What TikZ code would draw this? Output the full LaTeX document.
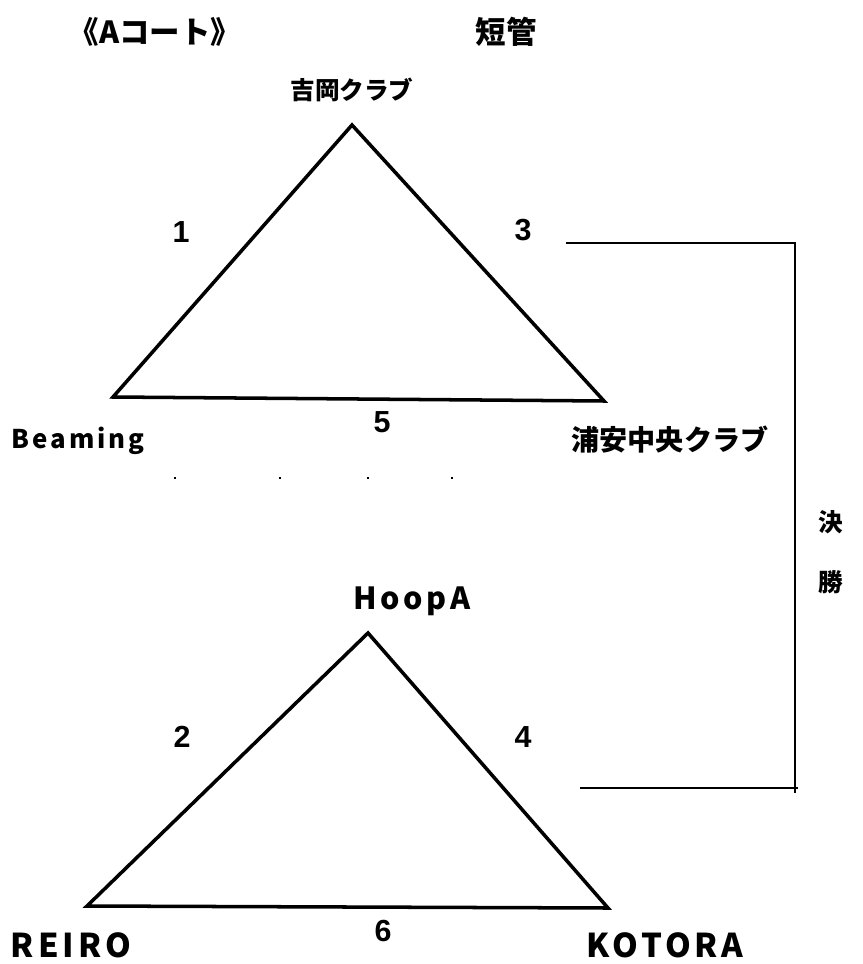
\documentclass[tikz,border=0pt]{standalone}
\usepackage{fontspec}
\setmainfont{Noto Sans CJK JP}
\newfontfamily\numfont{Liberation Sans}
\newfontfamily\wordfont[LetterSpace=12]{Noto Sans CJK JP}
\usetikzlibrary{positioning}
\tikzset{
  title/.style={font=\fontsize{26}{30}\selectfont\bfseries, inner sep=0pt},
  team/.style={font=\fontsize{21}{25}\selectfont\bfseries, inner sep=0pt},
  bigteam/.style={font=\fontsize{24}{28}\selectfont\bfseries, inner sep=0pt},
  word/.style={font=\wordfont\fontsize{#1}{#1}\selectfont\bfseries, inner sep=0pt},
  game/.style={font=\numfont\fontsize{26}{30}\selectfont\bfseries, inner sep=0pt},
  side/.style={line width=3pt, line join=miter},
  final/.style={line width=2.4pt},
  tick/.style={fill=black, inner sep=0pt, minimum size=1.2pt}
}

\begin{document}
\begin{tikzpicture}[x=0.03cm, y=-0.03cm]
  \useasboundingbox (0,0) rectangle (862,964);
  \node[title] (court) at (155,32) {《Aコート》};
  \node[title] (venue) at (506,32) {短管};

  % upper group
  \coordinate (u1) at (352,125);
  \coordinate (u2) at (113,397);
  \coordinate (u3) at (604,401);
  \draw[side] (u1) -- (u2) -- (u3) -- cycle;
  \node[team] (yoshioka) at (352,90) {吉岡クラブ};
  \node[word=22] (beaming) at (78,441) {Beaming};
  \node[bigteam] (urayasu) at (670,440) {浦安中央クラブ};
  \node[game] (g1) at (181,232) {1};
  \node[game] (g3) at (523,230) {3};
  \node[game] (g5) at (382,422) {5};
  \foreach \x in {175,280,368,452} \node[tick] (dot\x) at (\x,478) {};

  % lower group
  \coordinate (l1) at (368,633);
  \coordinate (l2) at (87,906);
  \coordinate (l3) at (608,908);
  \draw[side] (l1) -- (l2) -- (l3) -- cycle;
  \node[word=26] (hoopa) at (412,601) {HoopA};
  \node[word=28] (reiro) at (71,945) {REIRO};
  \node[word=28] (kotora) at (665,945) {KOTORA};
  \node[game] (g2) at (182,737) {2};
  \node[game] (g4) at (523,737) {4};
  \node[game] (g6) at (383,931) {6};

  % final
  \coordinate (f1) at (566,243);
  \coordinate (f2) at (795,243);
  \coordinate (f3) at (795,793);
  \coordinate (f4) at (580,788);
  \coordinate (f5) at (798,788);
  \draw[final] (f1) -- (f2) -- (f3);
  \draw[final] (f4) -- (f5);
  \node[team] (ketsu) at (831,522) {決};
  \node[team] (sho) at (831,582) {勝};
\end{tikzpicture}
\end{document}
